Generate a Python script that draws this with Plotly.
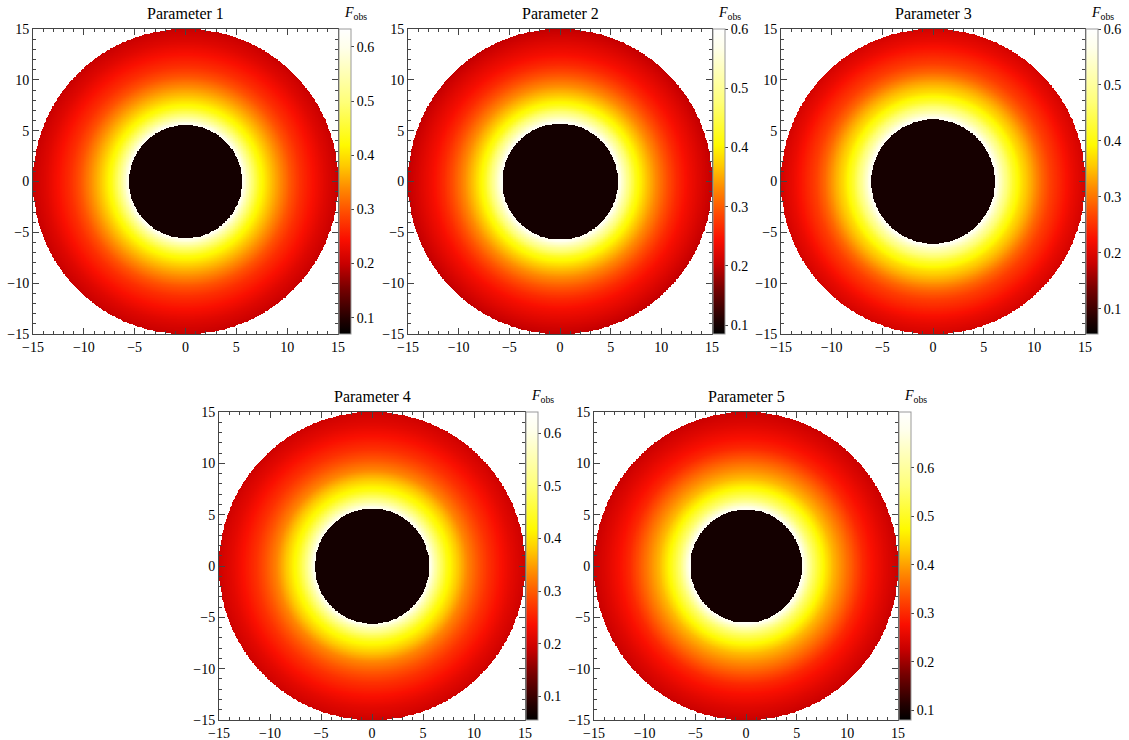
import numpy as np
import plotly.graph_objects as go

W, H = 1129, 740

titles = ["Parameter 1", "Parameter 2", "Parameter 3", "Parameter 4", "Parameter 5"]

# radial intensity profiles (radius, F_obs)
shadow_r = [5.55, 5.7, 6.1, 5.6, 5.5]
inner_F = [0.086, 0.1, 0.072, 0.072, 0.098]

r_p1 = [5.55, 6.0, 6.5, 7.3, 8.3, 9.3, 10.3, 11.3, 12.5, 13.7, 15.0]
F_p1 = [0.62, 0.56, 0.50, 0.43, 0.38, 0.34, 0.30, 0.27, 0.245, 0.22, 0.20]

r_p2 = [5.7, 6.15, 6.65, 7.45, 8.45, 9.45, 10.45, 11.45, 12.6, 13.8, 15.0]
F_p2 = [0.59, 0.54, 0.49, 0.42, 0.37, 0.33, 0.295, 0.265, 0.24, 0.22, 0.20]

r_p3 = [6.1, 6.55, 7.05, 7.9, 8.8, 9.8, 10.7, 11.6, 12.7, 13.8, 15.0]
F_p3 = [0.59, 0.54, 0.49, 0.42, 0.37, 0.33, 0.29, 0.26, 0.235, 0.21, 0.19]

r_p4 = [5.6, 6.05, 6.55, 7.35, 8.35, 9.35, 10.35, 11.35, 12.5, 13.7, 15.0]
F_p4 = [0.62, 0.56, 0.50, 0.43, 0.38, 0.33, 0.295, 0.265, 0.24, 0.215, 0.195]

r_p5 = [5.5, 6.0, 6.5, 7.5, 8.5, 9.5, 10.5, 11.5, 12.5, 13.7, 15.0]
F_p5 = [0.70, 0.63, 0.56, 0.48, 0.42, 0.38, 0.34, 0.30, 0.275, 0.25, 0.228]

profiles_r = [r_p1, r_p2, r_p3, r_p4, r_p5]
profiles_F = [F_p1, F_p2, F_p3, F_p4, F_p5]

cb_min = [0.07, 0.085, 0.055, 0.055, 0.08]
cb_max = [0.633, 0.60, 0.60, 0.64, 0.715]

tick_vals = [0.1, 0.2, 0.3, 0.4, 0.5, 0.6]
axis_ticks = [-15, -10, -5, 0, 5, 10, 15]

# panel frames in pixels: (left, right, top, bottom)
frames = [(33, 338, 29, 334), (408, 712, 29, 334), (781, 1085, 29, 334),
          (219, 525, 412, 720), (594, 898, 412, 720)]

colorscale = [
    [0.0, "rgb(0,0,0)"], [0.05, "rgb(35,0,0)"], [0.15, "rgb(120,0,0)"],
    [0.23, "rgb(200,0,0)"], [0.31, "rgb(250,15,0)"], [0.39, "rgb(255,70,0)"],
    [0.48, "rgb(255,140,0)"], [0.55, "rgb(255,200,0)"], [0.62, "rgb(255,250,0)"],
    [0.76, "rgb(255,255,120)"], [0.94, "rgb(255,255,235)"], [1.0, "rgb(255,255,255)"],
]

N = 421
xs = np.linspace(-15, 15, N)
XX, YY = np.meshgrid(xs, xs)
RR = np.sqrt(XX ** 2 + YY ** 2)

fig = go.Figure()
font_serif = "Liberation Serif, Times New Roman, serif"
axcol = "#444"

layout = dict(width=W, height=H, margin=dict(l=0, r=0, t=0, b=0),
              paper_bgcolor="white", plot_bgcolor="white", showlegend=False)
annotations = []

for i in range(5):
    L, R, T, B = frames[i]
    z = np.interp(RR, profiles_r[i], profiles_F[i])
    z = np.where(RR < shadow_r[i], inner_F[i], z)
    z = np.where(RR > 15.0, np.nan, z)
    z = np.round(z, 4)
    n = i + 1
    xa = "x" if n == 1 else f"x{n}"
    ya = "y" if n == 1 else f"y{n}"
    ca = "coloraxis" if n == 1 else f"coloraxis{n}"
    fig.add_trace(go.Heatmap(x=xs, y=xs, z=z, xaxis=xa, yaxis=ya, coloraxis=ca,
                             hoverinfo="skip"))
    xdom = [L / W, R / W]
    ydom = [1 - B / H, 1 - T / H]
    common = dict(range=[-15, 15], showgrid=False, zeroline=False, showline=True,
                  linecolor=axcol, linewidth=1, mirror="ticks", ticks="inside",
                  ticklen=6, tickcolor=axcol, tickvals=axis_ticks,
                  tickfont=dict(family=font_serif, size=14, color="black"),
                  minor=dict(dtick=1, ticks="inside", ticklen=3, tickcolor=axcol),
                  automargin=False, fixedrange=True)
    layout["xaxis" if n == 1 else f"xaxis{n}"] = dict(domain=xdom, anchor=ya, ticklabelstandoff=0, **common)
    layout["yaxis" if n == 1 else f"yaxis{n}"] = dict(domain=ydom, anchor=xa, **common)
    layout[ca] = dict(
        colorscale=colorscale, cmin=cb_min[i], cmax=cb_max[i],
        colorbar=dict(x=(R + 1) / W, xanchor="left", xref="paper",
                      y=1 - (T + B) / 2 / H, yanchor="middle", len=(B - T) / H,
                      lenmode="fraction", thickness=12, thicknessmode="pixels",
                      outlinewidth=1, outlinecolor="#999", tickvals=tick_vals,
                      ticks="outside", ticklen=3, tickcolor=axcol,
                      tickfont=dict(family=font_serif, size=14, color="black"),
                      xpad=0, ypad=0))
    annotations.append(dict(text=titles[i], x=(L + R) / 2 / W, y=1 - (T - 16) / H,
                            xref="paper", yref="paper", showarrow=False,
                            xanchor="center", yanchor="middle",
                            font=dict(family=font_serif, size=16, color="black")))
    annotations.append(dict(text="<i>F</i><sub>obs</sub>", x=(R + 17) / W,
                            y=1 - (T - 16) / H, xref="paper", yref="paper",
                            showarrow=False, xanchor="center", yanchor="middle",
                            font=dict(family=font_serif, size=14, color="black")))

layout["annotations"] = annotations
fig.update_layout(**layout)
fig.write_html("out.html")
